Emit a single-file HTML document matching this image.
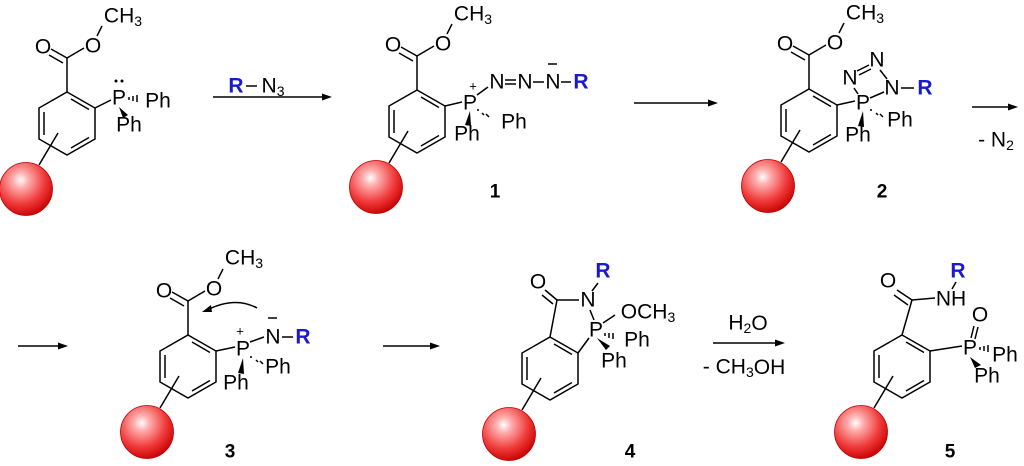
<!DOCTYPE html>
<html><head><meta charset="utf-8"><style>
html,body{margin:0;padding:0;background:#fff}
svg{display:block}
text{font-family:"Liberation Sans",sans-serif;font-size:21px;fill:#000;dominant-baseline:central;text-anchor:middle}
.b{fill:#1a1acc;font-weight:bold}
.n{font-weight:bold;font-size:19px}
.s{font-size:14px}
line,path,polyline{stroke:#000;stroke-width:1.5;fill:none}
</style></head><body>
<svg width="1024" height="466" viewBox="0 0 1024 466" xmlns="http://www.w3.org/2000/svg">
<defs>
<radialGradient id="g" cx="0.4" cy="0.33" r="0.7">
<stop offset="0" stop-color="#ffffff"/><stop offset="0.2" stop-color="#ffb0b0"/><stop offset="0.65" stop-color="#f03a3a"/><stop offset="1" stop-color="#c80000"/>
</radialGradient>
<g id="ring">
<polygon points="0,0 28,16 28,47 0,63 -28,47 -28,16" fill="none" stroke="#000" stroke-width="1.5"/>
<line x1="-23" y1="20" x2="-23" y2="43"/>
<line x1="4" y1="7" x2="22" y2="17.5"/>
<line x1="22" y1="45.5" x2="4" y2="56"/>
<line x1="-9" y1="41" x2="-28" y2="73"/>
<circle cx="-41" cy="97" r="26.5" fill="url(#g)" stroke="#b00" stroke-width="0.8"/>
</g>
<g id="ester">
<line x1="0" y1="0" x2="0" y2="-34"/>
<line x1="0" y1="-34" x2="-16" y2="-43"/>
<line x1="-4" y1="-29" x2="-18" y2="-37"/>
<line x1="0" y1="-34" x2="17" y2="-44"/>
<line x1="30" y1="-56" x2="35" y2="-66"/>
</g>
</defs>

<!-- Structure 0 -->
<use href="#ring" x="67" y="92"/>
<use href="#ester" x="67" y="92"/>
<text x="43" y="47">O</text><text x="93" y="46">O</text>
<text x="123" y="16">CH<tspan class="s" dy="5">3</tspan></text>
<line x1="95" y1="108" x2="111" y2="100"/>
<text x="119" y="98">P</text>
<circle cx="116" cy="81" r="1.5"/><circle cx="122" cy="81" r="1.5"/>
<line x1="129" y1="97" x2="129" y2="100"/><line x1="133" y1="96" x2="133" y2="101"/><line x1="137" y1="95" x2="137" y2="102"/>
<text x="158" y="101">Ph</text>
<polygon points="119,107 123,118 128,115" fill="#000"/>
<text x="129" y="125">Ph</text>

<!-- Arrow 1 -->
<line x1="213" y1="97" x2="326" y2="97"/><polygon points="332,97 322,93.5 322,100.5" fill="#000"/>
<text x="236" y="86" class="b">R</text><line x1="246" y1="86" x2="257" y2="86"/><text x="273" y="86">N<tspan class="s" dy="5">3</tspan></text>

<!-- Structure 1 -->
<use href="#ring" x="417" y="90"/>
<use href="#ester" x="417" y="90"/>
<text x="393" y="45">O</text><text x="443" y="44">O</text>
<text x="473" y="14">CH<tspan class="s" dy="5">3</tspan></text>
<line x1="445" y1="106" x2="462" y2="102"/>
<text x="470" y="103">P</text><text x="473" y="86" style="font-size:13px">+</text>
<line x1="477" y1="95" x2="488" y2="87"/>
<text x="497" y="82">N</text>
<line x1="505" y1="80" x2="516" y2="80"/><line x1="505" y1="84" x2="516" y2="84"/>
<text x="525" y="82">N</text><line x1="533" y1="82" x2="544" y2="82"/>
<text x="553" y="82">N</text><line x1="548" y1="64" x2="557" y2="64"/>
<line x1="561" y1="82" x2="571" y2="82"/>
<text x="581" y="82" class="b">R</text>
<circle cx="478" cy="110" r="1" fill="#000"/>
<line x1="482" y1="113" x2="484" y2="115"/><line x1="486" y1="114" x2="489" y2="117"/>
<text x="514" y="122">Ph</text>
<polygon points="470,111 465,125 471,126" fill="#000"/>
<text x="467" y="134">Ph</text>
<text x="495" y="192" class="n">1</text>

<!-- Arrow 2 -->
<line x1="634" y1="103" x2="712" y2="103"/><polygon points="718,103 708,99.5 708,106.5" fill="#000"/>

<!-- Structure 2 -->
<use href="#ring" x="809" y="89"/>
<use href="#ester" x="809" y="89"/>
<text x="785" y="44">O</text><text x="835" y="43">O</text>
<text x="865" y="13">CH<tspan class="s" dy="5">3</tspan></text>
<line x1="837" y1="105" x2="855" y2="101"/>
<text x="863" y="103">P</text>
<text x="850" y="78">N</text>
<line x1="858" y1="94" x2="854" y2="88"/>
<line x1="857" y1="71" x2="869" y2="65"/><line x1="859" y1="75" x2="871" y2="69"/>
<text x="877" y="60">N</text>
<line x1="880" y1="70" x2="887" y2="79"/>
<text x="892" y="88">N</text>
<line x1="870" y1="98" x2="884" y2="92"/>
<line x1="901" y1="88" x2="914" y2="88"/>
<text x="925" y="88" class="b">R</text>
<circle cx="871" cy="110" r="1" fill="#000"/>
<line x1="876" y1="113" x2="878" y2="115"/><line x1="880" y1="114" x2="883" y2="117"/>
<text x="900" y="120">Ph</text>
<polygon points="863,111 858,126 864,127" fill="#000"/>
<text x="858" y="135">Ph</text>
<text x="882" y="192" class="n">2</text>

<!-- Arrow 3 -->
<line x1="972" y1="107" x2="1012" y2="107"/><polygon points="1018,107 1008,103.5 1008,110.5" fill="#000"/>
<text x="996" y="140">- N<tspan class="s" dy="5">2</tspan></text>

<!-- Row 2 arrows -->
<line x1="18" y1="346" x2="62" y2="346"/><polygon points="68,346 58,342.5 58,349.5" fill="#000"/>
<line x1="383" y1="346" x2="434" y2="346"/><polygon points="440,346 430,342.5 430,349.5" fill="#000"/>

<!-- Structure 3 -->
<use href="#ring" x="188" y="335"/>
<use href="#ester" x="188" y="335"/>
<text x="164" y="291">O</text><text x="214" y="289">O</text>
<text x="244" y="258">CH<tspan class="s" dy="5">3</tspan></text>
<path d="M257,308 Q235,296 207,310"/>
<polygon points="202,312 211,305 212,312" fill="#000"/>
<line x1="216" y1="351" x2="235" y2="347"/>
<text x="243" y="349">P</text><text x="240" y="331" style="font-size:13px">+</text>
<line x1="250" y1="342" x2="264" y2="337"/>
<text x="273" y="337">N</text><line x1="268" y1="318" x2="277" y2="318"/>
<line x1="282" y1="337" x2="293" y2="337"/>
<text x="303" y="337" class="b">R</text>
<circle cx="251" cy="357" r="1" fill="#000"/>
<line x1="256" y1="360" x2="258" y2="362"/><line x1="260" y1="361" x2="263" y2="364"/>
<text x="278" y="367">Ph</text>
<polygon points="243,358 238,373 244,374" fill="#000"/>
<text x="236" y="383">Ph</text>
<text x="230" y="452" class="n">3</text>

<!-- Structure 4 -->
<use href="#ring" x="550" y="337"/>
<line x1="550" y1="337" x2="557" y2="300"/>
<line x1="557" y1="300" x2="545" y2="290"/><line x1="553" y1="304" x2="542" y2="295"/>
<text x="538" y="282">O</text>
<line x1="557" y1="300" x2="579" y2="300"/>
<text x="588" y="300">N</text>
<line x1="592" y1="291" x2="598" y2="283"/>
<text x="603" y="271" class="b">R</text>
<line x1="590" y1="310" x2="594" y2="320"/>
<text x="596" y="330">P</text>
<line x1="603" y1="323" x2="615" y2="315"/>
<line x1="578" y1="353" x2="589" y2="338"/>
<text x="648" y="312">OCH<tspan class="s" dy="5">3</tspan></text>
<line x1="605" y1="333" x2="605" y2="336"/><line x1="609" y1="333" x2="609" y2="338"/><line x1="613" y1="333" x2="613" y2="339"/>
<text x="637" y="340">Ph</text>
<polygon points="597,338 606,350 610,346" fill="#000"/>
<text x="614" y="361">Ph</text>
<text x="630" y="452" class="n">4</text>

<!-- Arrow 4 -->
<line x1="713" y1="343" x2="779" y2="343"/><polygon points="785,343 775,339.5 775,346.5" fill="#000"/>
<text x="748" y="323">H<tspan class="s" dy="5">2</tspan><tspan dy="-5">O</tspan></text>
<text x="744" y="367">- CH<tspan class="s" dy="5">3</tspan><tspan dy="-5">OH</tspan></text>

<!-- Structure 5 -->
<use href="#ring" x="902" y="335"/>
<line x1="902" y1="335" x2="912" y2="300"/>
<line x1="912" y1="300" x2="897" y2="290"/><line x1="908" y1="305" x2="894" y2="295"/>
<text x="888" y="281">O</text>
<line x1="912" y1="300" x2="935" y2="298"/>
<text x="951" y="299">NH</text>
<line x1="952" y1="289" x2="956" y2="282"/>
<text x="958" y="271" class="b">R</text>
<line x1="930" y1="351" x2="962" y2="346"/>
<text x="970" y="348">P</text>
<line x1="971" y1="338" x2="974" y2="326"/><line x1="975" y1="339" x2="978" y2="327"/>
<text x="980" y="315">O</text>
<line x1="980" y1="347" x2="980" y2="350"/><line x1="984" y1="346" x2="984" y2="351"/><line x1="988" y1="345" x2="988" y2="352"/>
<text x="1005" y="355">Ph</text>
<polygon points="970,357 975,368 981,365" fill="#000"/>
<text x="987" y="376">Ph</text>
<text x="950" y="452" class="n">5</text>
</svg>
</body></html>
